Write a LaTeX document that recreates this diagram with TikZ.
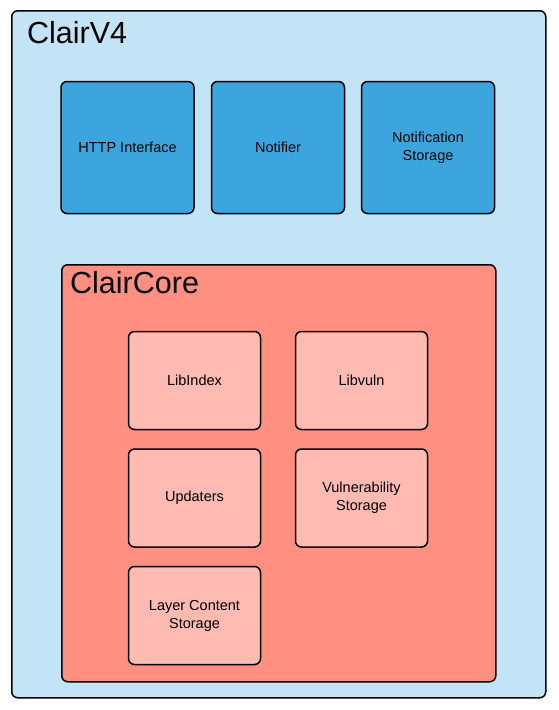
\documentclass[tikz,border=0pt]{standalone}
\usepackage{fontspec}
\setmainfont{Liberation Sans}
\definecolor{outerblue}{HTML}{C2E4F6}
\definecolor{darkblue}{HTML}{3DA5DD}
\definecolor{coresalmon}{HTML}{FF8F80}
\definecolor{innerpink}{HTML}{FFBAB2}
\begin{document}
\begin{tikzpicture}[x=1pt,y=-1pt,
  container/.style={draw=black,line width=1.5pt,rounded corners=6pt,anchor=north west,inner sep=0pt},
  bluebox/.style={draw=black,line width=1.5pt,rounded corners=6pt,fill=darkblue,minimum width=133pt,minimum height=132pt,inner sep=0pt,align=center,font=\fontsize{14.5}{18}\selectfont},
  pinkbox/.style={draw=black,line width=1.5pt,rounded corners=6pt,fill=innerpink,minimum width=132pt,minimum height=98pt,inner sep=0pt,align=center,font=\fontsize{14.5}{18}\selectfont},
  titletext/.style={anchor=base west,inner sep=0pt,font=\fontsize{30.5}{34}\selectfont}]
\useasboundingbox (0,0) rectangle (558,710);
\node[container,fill=outerblue,minimum width=534pt,minimum height=687pt] (clairv4) at (11,10) {};
\node[titletext] (v4title) at (27,43) {ClairV4};
\node[bluebox] (http) at (127.5,147.5) {HTTP Interface};
\node[bluebox] (notifier) at (278,147.5) {Notifier};
\node[bluebox] (nstore) at (428,147.5) {Notification\\Storage};
\node[container,fill=coresalmon,minimum width=434pt,minimum height=417pt] (claircore) at (61,264) {};
\node[titletext] (coretitle) at (70,293) {ClairCore};
\node[pinkbox] (libindex) at (194.5,380.5) {LibIndex};
\node[pinkbox] (libvuln) at (361.5,380.5) {Libvuln};
\node[pinkbox] (updaters) at (194.5,498) {Updaters};
\node[pinkbox] (vulnstore) at (361.5,498) {Vulnerability\\Storage};
\node[pinkbox] (layerstore) at (194.5,615.5) {Layer Content\\Storage};
\end{tikzpicture}
\end{document}
